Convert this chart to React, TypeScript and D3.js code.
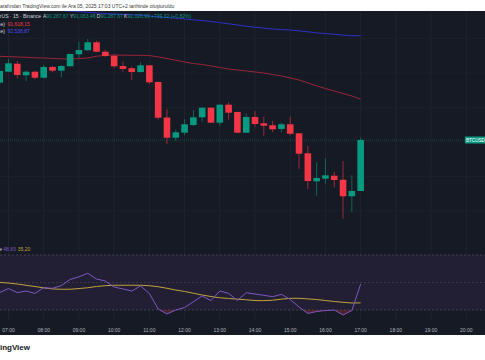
import React from "react";
import * as d3 from "d3";

const TIMES = ["06:45","07:00","07:15","07:30","07:45","08:00","08:15","08:30","08:45","09:00","09:15","09:30","09:45","10:00","10:15","10:30","10:45","11:00","11:15","11:30","11:45","12:00","12:15","12:30","12:45","13:00","13:15","13:30","13:45","14:00","14:15","14:30","14:45","15:00","15:15","15:30","15:45","16:00","16:15","16:30","16:45","17:00"];
const OPEN = [91858,92017,92133,91965,92017,91930,92086,92032,92096,92270,92328,92444,92307,92249,92100,92067,92013,92110,91868,91353,91060,91133,91245,91356,91495,91278,91539,91433,91133,91361,91269,91240,91187,91255,91124,90834,90428,90466,90509,90451,90211,90287.67];
const HIGH = [92057,92202,92173,92035,92030,92115,92100,92107,92280,92452,92492,92467,92332,92252,92162,92090,92154,92115,91875,91474,91176,91329,91462,91503,91498,91542,91574,91440,91414,91448,91365,91303,91278,91365,91128,90944,90704,90762,90567,90722,90515,91063.46];
const LOW = [91839,92009,91922,91883,91907,91919,92009,91936,92093,92220,92325,92303,92226,92067,92017,91897,92006,91839,91321,90966,91012,91095,91230,91292,91273,91234,91321,91128,91128,91220,91089,91139,91139,91095,90611,90312,90219,90385,90341,89886,89979,90287.67];
const CLOSE = [92028,92139,91970,92017,91930,92086,92032,92100,92274,92332,92444,92307,92245,92096,92057,92013,92110,91864,91350,91060,91139,91255,91356,91495,91278,91539,91423,91133,91361,91259,91234,91182,91255,91118,90828,90432,90476,90515,90447,90211,90288,91026.99];
const MA_SHORT = [92241,92235,92231,92226,92220,92216,92210,92204,92202,92207,92216,92241,92255,92260,92257,92255,92255,92251,92233,92207,92184,92158,92136,92122,92100,92078,92057,92042,92028,92013,91999,91977,91955,91926,91897,91856,91810,91774,91737,91701,91665,91618.15];
const MA_LONG = [92985,92970,92958,92948,92938,92927,92916,92906,92898,92888,92879,92869,92861,92854,92847,92842,92837,92825,92815,92804,92792,92782,92770,92760,92745,92729,92712,92695,92677,92663,92650,92637,92628,92621,92609,92596,92581,92570,92560,92548,92538,92538.87];
const RSI = [42.7,45.6,42.6,43.8,42.1,46.2,45.8,47.8,52.2,54.1,56.7,52.5,51.1,46.7,45.3,43.8,47.5,42.0,30.7,27.1,30.0,31.8,36.0,40.2,36.8,43.8,42.1,36.9,42.6,41.6,40.7,39.7,41.4,37.6,32.2,27.5,28.9,29.6,30.0,26.4,29.6,48.83];
const RSI_MA = [50.1,49.6,48.9,48.0,47.1,46.1,45.3,45.1,45.1,45.6,46.2,47.1,47.7,48.0,48.0,48.0,48.0,47.7,46.9,45.8,44.5,43.5,42.2,40.9,39.8,38.9,38.4,37.9,37.4,36.9,36.8,37.1,37.9,38.5,38.5,38.1,37.6,36.9,36.2,35.6,35.1,35.2];
const TICKS = ["07:00","08:00","09:00","10:00","11:00","12:00","13:00","14:00","15:00","16:00","17:00","18:00","19:00","20:00"];
const PRICE_GRID = [90000, 90500, 91000, 91500, 92000, 92500];
const RSI_LEVELS = [70, 50, 30];

const UP = "#089981";
const DOWN = "#f23645";
const FONT = "'Liberation Sans', Arial, sans-serif";

const parseT = (s: string) => {
  const [h, m] = s.split(":").map(Number);
  return new Date(Date.UTC(2025, 11, 5, h, m));
};

export default function App() {
  const W = 485, H = 360;
  const chartTop = 11, chartBottom = 335, mainBottom = 236, rsiBottom = 320;
  const x = d3.scaleUtc().domain([parseT("07:00"), parseT("20:00")]).range([8.5, 466.3]);
  const pxPer = 14.5;
  const lastClose = CLOSE[CLOSE.length - 1];
  const y = d3.scaleLinear()
    .domain([89000, 93000])
    .range([140 + (lastClose - 89000) / pxPer, 140 - (93000 - lastClose) / pxPer]);
  const yR = d3.scaleLinear().domain([0, 100]).range([351.25, 213.75]);
  const times = TIMES.map(parseT);
  const step = x(parseT("07:15")) - x(parseT("07:00"));
  const bw = step * 0.75;

  const lineP = (vals: number[]) =>
    d3.line<number>().x((_, i) => x(times[i])).y((v) => y(v))(vals) || "";
  const lineR = (vals: number[]) =>
    d3.line<number>().x((_, i) => x(times[i])).y((v) => yR(v))(vals) || "";
  const osArea = d3.area<number>().x((_, i) => x(times[i])).y0(yR(30)).y1((v) => yR(v))(RSI) || "";

  const tickDates = TICKS.map(parseT);

  return (
    <svg width={W} height={H} style={{ position: "absolute", left: 0, top: 0 }} fontFamily={FONT}>
      <defs>
        <clipPath id="mainClip"><rect x={0} y={chartTop} width={W} height={mainBottom - chartTop} /></clipPath>
        <clipPath id="rsiClip"><rect x={0} y={238} width={W} height={rsiBottom - 238} /></clipPath>
        <clipPath id="osClip"><rect x={0} y={yR(30)} width={W} height={rsiBottom - yR(30)} /></clipPath>
      </defs>
      <rect x={0} y={0} width={W} height={H} fill="#ffffff" />
      <rect x={0} y={chartTop} width={W} height={chartBottom - chartTop} fill="#161a25" />

      {/* vertical grid */}
      {tickDates.map((d, i) => (
        <line key={"vg" + i} x1={x(d)} x2={x(d)} y1={chartTop} y2={rsiBottom} stroke="#1f2330" strokeWidth={1} />
      ))}
      {/* horizontal grid main */}
      {PRICE_GRID.map((p, i) => (
        <line key={"hg" + i} x1={0} x2={W} y1={y(p)} y2={y(p)} stroke="#1c202b" strokeWidth={1} />
      ))}

      {/* RSI band */}
      <rect x={0} y={yR(70)} width={W} height={yR(30) - yR(70)} fill="#221f35" />
      {RSI_LEVELS.map((lv, i) => (
        <line key={"rl" + i} x1={0} x2={W} y1={yR(lv)} y2={yR(lv)} stroke="#787b86" strokeOpacity={lv === 50 ? 0.35 : 0.5} strokeDasharray="2,2" strokeWidth={0.8} />
      ))}

      {/* MAs */}
      <g clipPath="url(#mainClip)">
        <path d={lineP(MA_LONG)} fill="none" stroke="#2f30c8" strokeWidth={1} />
        <path d={lineP(MA_SHORT)} fill="none" stroke="#9a2438" strokeWidth={1} />
        {/* price line */}
        <line x1={0} x2={W} y1={y(lastClose)} y2={y(lastClose)} stroke={UP} strokeOpacity={0.45} strokeDasharray="1,1" strokeWidth={0.8} />
        {/* candles */}
        {times.map((t, i) => {
          const up = CLOSE[i] >= OPEN[i];
          const c = up ? UP : DOWN;
          const cx = x(t);
          const top = y(Math.max(OPEN[i], CLOSE[i]));
          const bot = y(Math.min(OPEN[i], CLOSE[i]));
          return (
            <g key={"c" + i}>
              <line x1={cx} x2={cx} y1={y(HIGH[i])} y2={y(LOW[i])} stroke={c} strokeOpacity={0.6} strokeWidth={1} />
              <rect x={cx - bw / 2} y={top} width={bw} height={Math.max(1, bot - top)} fill={c} />
            </g>
          );
        })}
      </g>

      {/* RSI lines */}
      <g clipPath="url(#rsiClip)">
        <path d={osArea} fill={DOWN} fillOpacity={0.25} clipPath="url(#osClip)" />
        <path d={lineR(RSI_MA)} fill="none" stroke="#c2a23a" strokeWidth={1} />
        <path d={lineR(RSI)} fill="none" stroke="#7e57c2" strokeWidth={1} />
      </g>

      {/* price label */}
      <rect x={465} y={136.5} width={22} height={7} fill={UP} />
      <text x={466} y={142} fontSize={4.6} fill="#ffffff">BTCUSDT</text>

      {/* time axis */}
      {TICKS.map((s, i) => (
        <text key={"tl" + i} x={x(tickDates[i])} y={332} fontSize={5} fill="#b2b5be" textAnchor="middle">{s}</text>
      ))}

      {/* header */}
      <text x={-1.5} y={7.5} fontSize={5} fill="#3a3a3a">tarafından TradingView.com ile Ara 05, 2025 17:03 UTC+2 tarihinde oluşturuldu</text>
      <text x={41} y={18} fontSize={5} fill="#d1d4dc" textAnchor="end">Bitcoin / TetherUS · 15 · Binance</text>
      <text x={43} y={18} fontSize={5}>
        <tspan fill="#d1d4dc">A</tspan><tspan fill={UP}>90,287,67</tspan>
        <tspan fill="#d1d4dc"> Y</tspan><tspan fill={UP}>91,063,46</tspan>
        <tspan fill="#d1d4dc"> D</tspan><tspan fill={UP}>90,287,67</tspan>
        <tspan fill="#d1d4dc"> K</tspan><tspan fill={UP}>91,026,99 +739,32 (+0,82%)</tspan>
      </text>
      <text x={5} y={25.5} fontSize={5} fill="#d1d4dc" textAnchor="end">MA (50, close)</text>
      <text x={7.5} y={25.5} fontSize={5} fill="#f23645">91,618,15</text>
      <text x={5} y={32.5} fontSize={5} fill="#d1d4dc" textAnchor="end">MA (200, close)</text>
      <text x={7.5} y={32.5} fontSize={5} fill="#4b4be8">92,538,87</text>

      <text x={2} y={251} fontSize={5} fill="#d1d4dc" textAnchor="end">RSI 14 close</text>
      <text x={3.3} y={251} fontSize={5} fill="#7e57c2">48,83</text>
      <text x={17.7} y={251} fontSize={5} fill="#c2a23a">35,20</text>

      {/* footer */}
      <text x={30} y={350} fontSize={8} fontWeight="bold" fill="#131722" textAnchor="end">TradingView</text>
    </svg>
  );
}
